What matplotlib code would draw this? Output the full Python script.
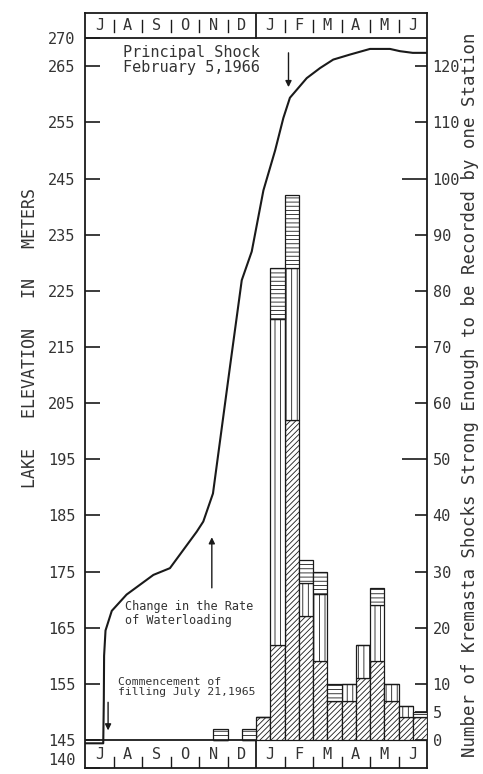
import numpy as np
import matplotlib
matplotlib.use("Agg")
from matplotlib import pyplot as plt
from matplotlib.ticker import FixedLocator, FixedFormatter

# month strip letters, July 1965 - June 1966
month_letters = ["J", "A", "S", "O", "N", "D", "J", "F", "M", "A", "M", "J"]

# lake elevation curve (months since July 1, 1965 / meters)
elev_month = [0.0, 0.64, 0.66, 0.67, 0.72, 0.94, 1.46, 2.40, 2.98, 3.92, 4.15,
              4.49, 5.09, 5.50, 5.85, 6.26, 6.67, 6.96, 7.19, 7.78, 8.25,
              8.71, 9.30, 10.0, 10.7, 11.05, 11.5, 12.0]
elev_m = [144.4, 144.4, 152.0, 160.0, 164.5, 168.0, 170.9, 174.4, 175.6, 182.1,
          183.9, 188.9, 211.6, 226.9, 232.0, 242.9, 250.0, 255.8, 259.4, 262.9,
          264.7, 266.2, 267.1, 268.1, 268.1, 267.7, 267.4, 267.4]

# shocks per half month (24 half-month bins), split into three classes
period_start = np.arange(24) * 0.5
shocks_low = [0, 0, 0, 0, 0, 0, 0, 0, 0, 0, 0, 0,
              4, 17, 57, 22, 14, 7, 7, 11, 14, 7, 4, 4]
shocks_mid = [0, 0, 0, 0, 0, 0, 0, 0, 0, 0, 0, 0,
              0, 58, 27, 6, 12, 0, 3, 6, 10, 3, 2, 0]
shocks_high = [0, 0, 0, 0, 0, 0, 0, 0, 0, 2, 0, 2,
               0, 9, 13, 4, 4, 3, 0, 0, 3, 0, 0, 1]

elev_ticks = [140, 145, 155, 165, 175, 185, 195, 205, 215, 225, 235, 245, 255, 265, 270]
count_ticks = [0, 5, 10, 20, 30, 40, 60, 70, 80, 90, 110, 120]
count_long_ticks = [50, 100]

ink = "#1a1a1a"
txt = "#333333"
mono = "DejaVu Sans Mono"
plt.rcParams["hatch.linewidth"] = 0.6
plt.rcParams["hatch.color"] = "#444444"

fig = plt.figure(figsize=(4.83, 7.74), dpi=100)
ax = fig.add_axes([85 / 483, 6 / 774, 342 / 483, 755 / 774])
ax.set_xlim(0, 12)
ax.set_ylim(140, 274.5)
for s in ax.spines.values():
    s.set_linewidth(1.3)
    s.set_color(ink)

# month strips
ax.axhline(270, color=ink, lw=1.3)
ax.axhline(145, color=ink, lw=1.3)
ax.plot([6, 6], [270, 274.5], color=ink, lw=1.3)
ax.plot([6, 6], [140, 146.8], color=ink, lw=1.3)
for k, lab in enumerate(month_letters):
    ax.text(k + 0.5, 272.2, lab, ha="center", va="center", fontsize=11,
            family=mono, color=txt)
    ax.text(k + 0.5, 142.4, lab, ha="center", va="center", fontsize=11,
            family=mono, color=txt)
    if k > 0 and k != 6:
        ax.plot([k, k], [271.2, 273.3], color=ink, lw=1.0)
        ax.plot([k, k], [140, 141.9], color=ink, lw=1.0)

# lake elevation
ax.plot(elev_month, elev_m, color=ink, lw=1.5, solid_joinstyle="round")

# left ticks
ax.set_xticks([])
ax.set_yticks(elev_ticks)
ax.set_yticklabels([str(t) for t in elev_ticks], fontsize=11, family=mono, color=txt)
ax.tick_params(axis="y", direction="in", length=11, width=1.2, pad=7, color=ink)
for t in (ax.yaxis.get_major_ticks()[0], ax.yaxis.get_major_ticks()[-1]):
    t.tick1line.set_visible(False)
ax.get_yticklabels()[0].set_va("bottom")

# shock counts on the right axis
ax2 = ax.twinx()
ax2.set_ylim(-5, 129.5)
low = np.array(shocks_low)
mid = np.array(shocks_mid)
high = np.array(shocks_high)
keep = (low + mid + high) > 0
x = period_start[keep]
kw = dict(width=0.5, align="edge", facecolor="white", edgecolor=ink, linewidth=0.9)
ax2.bar(x, low[keep], hatch="//////", **kw)
ax2.bar(x, mid[keep], bottom=low[keep], hatch="|||", **kw)
ax2.bar(x, high[keep], bottom=(low + mid)[keep], hatch="----", **kw)

ax2.yaxis.set_major_locator(FixedLocator(count_long_ticks))
ax2.yaxis.set_major_formatter(FixedFormatter([str(t) for t in count_long_ticks]))
ax2.yaxis.set_minor_locator(FixedLocator(count_ticks))
ax2.yaxis.set_minor_formatter(FixedFormatter([str(t) for t in count_ticks]))
for which, ln in (("major", 18), ("minor", 9)):
    ax2.tick_params(axis="y", which=which, direction="in", length=ln, width=1.2,
                    pad=4, labelsize=11, labelcolor=txt, color=ink)
for lab in ax2.get_yticklabels(which="both"):
    lab.set_family(mono)
for s in ax2.spines.values():
    s.set_visible(False)

# annotations
arrow = dict(arrowstyle="-|>", color=ink, lw=1.0, mutation_scale=9)
ax.text(1.33, 268.8, "Principal Shock\nFebruary 5,1966", ha="left", va="top",
        fontsize=11, family=mono, color=txt, linespacing=1.0)
ax.annotate("", xy=(7.14, 260.8), xytext=(7.14, 267.9), arrowprops=arrow)

ax.text(1.42, 170.0, "Change in the Rate\nof Waterloading", ha="left", va="top",
        fontsize=8.5, family=mono, color=txt, linespacing=1.1)
ax.annotate("", xy=(4.45, 181.6), xytext=(4.45, 171.6), arrowprops=arrow)

ax.text(1.15, 156.3, "Commencement of\nfilling July 21,1965", ha="left", va="top",
        fontsize=8.2, family=mono, color=txt, linespacing=1.1)
ax.annotate("", xy=(0.81, 146.2), xytext=(0.81, 152.2), arrowprops=arrow)

# axis titles
fig.text(30 / 483, 1 - 338 / 774, "LAKE   ELEVATION   IN   METERS", rotation=90,
         ha="center", va="center", fontsize=12, family=mono, color=txt)
fig.text(470 / 483, 1 - 395 / 774,
         "Number of Kremasta Shocks Strong Enough to be Recorded by one Station",
         rotation=90, ha="center", va="center", fontsize=12.5, family=mono, color=txt)

fig.savefig("out.png", dpi=100, facecolor="white")
